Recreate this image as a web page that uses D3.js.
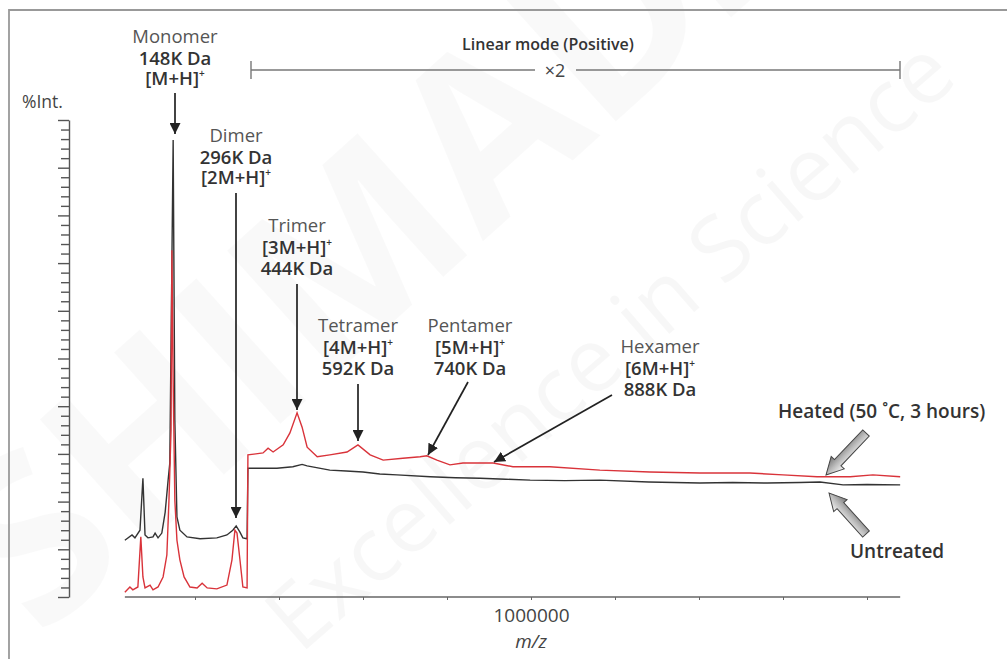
<!DOCTYPE html>
<html>
<head>
<meta charset="utf-8">
<script src="https://cdn.jsdelivr.net/npm/d3@7"></script>
<style>
  body { margin: 0; background: #fff; }
  svg { display: block; font-family: "Open Sans", sans-serif; }
</style>
</head>
<body>
<div id="chart"></div>
<script>

// m/z (Da) and %Int.
var untreatedMz = [33000, 50000, 57000, 69000, 76000, 81000, 88000, 100000, 105000, 112000, 121000, 129000, 136000, 140000, 148000, 152000, 157000, 164000, 181000, 212000, 252000, 276000, 290000, 298000, 307000, 314000, 324000, 326000, 348000, 395000, 433000, 455000, 467000, 521000, 560000, 600000, 640000, 681000, 760000, 820000, 879000, 940000, 998000, 1080000, 1164000, 1280000, 1402000, 1480000, 1562000, 1640000, 1688000, 1743000, 1800000, 1879000];
var untreatedInt = [11.9, 13.0, 12.4, 14.0, 24.9, 13.0, 12.4, 12.6, 13.4, 12.4, 13.4, 17.8, 24.5, 28.1, 95.8, 37.1, 16.8, 14.0, 12.6, 12.2, 12.4, 13.0, 14.0, 14.9, 13.6, 12.4, 12.2, 27.0, 27.0, 27.0, 27.3, 27.8, 27.5, 26.6, 26.4, 26.2, 25.8, 25.6, 25.2, 25.0, 24.9, 24.7, 24.5, 24.4, 24.5, 24.1, 23.9, 24.0, 23.9, 24.0, 24.1, 23.5, 23.6, 23.5];

var heatedMz = [33000, 45000, 52000, 64000, 71000, 76000, 81000, 93000, 100000, 112000, 124000, 133000, 138000, 143000, 145000, 148000, 152000, 157000, 164000, 174000, 188000, 205000, 217000, 229000, 252000, 276000, 288000, 295000, 300000, 307000, 314000, 324000, 326000, 362000, 374000, 386000, 410000, 426000, 443000, 455000, 467000, 491000, 521000, 562000, 588000, 617000, 648000, 695000, 736000, 752000, 776000, 807000, 838000, 886000, 910000, 957000, 1045000, 1164000, 1283000, 1402000, 1521000, 1600000, 1681000, 1760000, 1814000, 1879000];
var heatedInt = [1.0, 2.1, 1.5, 2.1, 12.6, 4.2, 1.9, 2.5, 1.5, 2.1, 4.2, 8.8, 20.3, 35.0, 72.7, 45.5, 20.3, 11.9, 7.8, 4.2, 2.1, 1.9, 2.9, 1.9, 1.7, 2.5, 7.8, 14.0, 13.4, 7.8, 2.1, 1.9, 29.8, 30.2, 31.2, 30.4, 31.9, 34.4, 38.6, 35.6, 31.4, 29.4, 29.8, 30.4, 31.9, 29.8, 28.7, 29.1, 29.4, 29.6, 28.7, 27.7, 28.1, 28.1, 28.1, 27.3, 27.3, 26.6, 26.2, 26.0, 26.0, 25.6, 25.2, 25.2, 25.6, 25.2];

var xTicks = [200000, 400000, 600000, 800000, 1000000, 1200000, 1400000, 1600000, 1800000];
var xLabels = {1000000: "1000000"};
var yTicks = d3.range(0, 101, 2);

var peakNames = ["Monomer", "Dimer", "Trimer", "Tetramer", "Pentamer", "Hexamer"];
var peakMasses = ["148K Da", "296K Da", "444K Da", "592K Da", "740K Da", "888K Da"];
var peakIons = ["M", "2M", "3M", "4M", "5M", "6M"];

var w = 1007, h = 659;

var svg = d3.select("#chart")
    .append("svg")
    .attr("width", w)
    .attr("height", h);

// faint watermark
var wm = svg.append("g").attr("fill", "#000");
wm.append("text")
    .attr("transform", "translate(40,640) rotate(-42)")
    .attr("font-size", 230)
    .attr("font-weight", 700)
    .attr("fill-opacity", 0.022)
    .text("SHIMADZU");
wm.append("text")
    .attr("transform", "translate(300,655) rotate(-41)")
    .attr("font-size", 90)
    .attr("fill-opacity", 0.03)
    .text("Excellence in Science");

// frame
svg.append("path")
    .attr("d", "M9," + h + "V10H" + w)
    .attr("fill", "none")
    .attr("stroke", "#999")
    .attr("stroke-width", 1.8);

var x = d3.scaleLinear().domain([200000, 1800000]).range([195, 867]);
var y = d3.scaleLinear().domain([0, 100]).range([597, 120]);

// y axis
var gy = svg.append("g")
    .attr("transform", "translate(69,0)")
    .call(d3.axisLeft(y).tickValues(yTicks).tickFormat("").tickSizeOuter(0));
gy.selectAll(".tick line")
    .attr("x2", function(d) { return d % 10 === 0 ? -11 : -8; })
    .attr("stroke", "#555")
    .attr("stroke-width", 1.4);
gy.select(".domain").attr("stroke", "#555").attr("stroke-width", 1.4);

svg.append("text")
    .attr("x", 22).attr("y", 108)
    .attr("font-size", 17.5)
    .attr("fill", "#444")
    .text("%Int.");

// x axis
var gx = svg.append("g")
    .attr("transform", "translate(0,597)")
    .call(d3.axisBottom(x).tickValues(xTicks).tickSize(3).tickSizeOuter(0)
        .tickFormat(function(d) { return xLabels[d] || ""; }));
gx.select(".domain")
    .attr("d", "M" + x(untreatedMz[0]) + ",0H" + x(untreatedMz[untreatedMz.length - 1]))
    .attr("stroke", "#666").attr("stroke-width", 1.3);
gx.selectAll(".tick line").attr("stroke", "#666");
gx.selectAll(".tick text")
    .attr("y", 12)
    .attr("font-size", 19)
    .attr("font-family", "Open Sans")
    .attr("fill", "#444");

svg.append("text")
    .attr("x", x(1000000)).attr("y", 648)
    .attr("text-anchor", "middle")
    .attr("font-size", 19)
    .attr("font-style", "italic")
    .attr("fill", "#444")
    .text("m/z");

// spectra
var line = d3.line()
    .x(function(d) { return x(d[0]); })
    .y(function(d) { return y(d[1]); });

svg.append("path")
    .datum(d3.zip(untreatedMz, untreatedInt))
    .attr("d", line)
    .attr("fill", "none")
    .attr("stroke", "#333")
    .attr("stroke-width", 1.4);

svg.append("path")
    .datum(d3.zip(heatedMz, heatedInt))
    .attr("d", line)
    .attr("fill", "none")
    .attr("stroke", "#d9333a")
    .attr("stroke-width", 1.4);

// linear mode bracket
var br = svg.append("g").attr("stroke", "#777").attr("stroke-width", 1.4);
br.append("line").attr("x1", 251).attr("x2", 535).attr("y1", 70).attr("y2", 70);
br.append("line").attr("x1", 576).attr("x2", 900).attr("y1", 70).attr("y2", 70);
br.append("line").attr("x1", 251).attr("x2", 251).attr("y1", 61).attr("y2", 79);
br.append("line").attr("x1", 900).attr("x2", 900).attr("y1", 61).attr("y2", 79);
svg.append("text")
    .attr("x", 548).attr("y", 50)
    .attr("text-anchor", "middle")
    .attr("font-size", 16).attr("font-weight", 600)
    .attr("fill", "#333")
    .text("Linear mode (Positive)");
svg.append("text")
    .attr("x", 555).attr("y", 77)
    .attr("text-anchor", "middle")
    .attr("font-size", 18)
    .attr("fill", "#444")
    .text("\u00d72");

// peak labels
var labelPos = [[175, 43], [236, 142], [297, 232], [358, 332], [470, 332], [660, 353]];
var massFirst = [true, true, false, false, false, false];
var arrows = [[175, 93, 175, 134], [236, 193, 236, 518], [297, 284, 297, 410], [358, 384, 358, 441], [468, 382, 428, 455], [612, 395, 494, 462]];

svg.append("defs").append("marker")
    .attr("id", "head")
    .attr("viewBox", "0 0 10 10")
    .attr("refX", 10).attr("refY", 5)
    .attr("markerWidth", 11).attr("markerHeight", 11)
    .attr("markerUnits", "userSpaceOnUse")
    .attr("orient", "auto")
    .append("path").attr("d", "M0,0L10,5L0,10Z").attr("fill", "#222");

peakNames.forEach(function(name, i) {
    var g = svg.append("g")
        .attr("text-anchor", "middle")
        .attr("font-size", 18.5);
    var px = labelPos[i][0], py = labelPos[i][1];
    g.append("text").attr("x", px).attr("y", py).attr("fill", "#555").text(name);
    var ion = g.append("text").attr("x", px).attr("y", py + (massFirst[i] ? 42 : 21.5))
        .attr("fill", "#333").attr("font-weight", 600);
    ion.append("tspan").text("[" + peakIons[i] + "+H]");
    ion.append("tspan").attr("font-size", 10).attr("dy", -8).text("+");
    g.append("text").attr("x", px).attr("y", py + (massFirst[i] ? 21.5 : 43))
        .attr("fill", "#333").attr("font-weight", 600).text(peakMasses[i]);

    var a = arrows[i];
    svg.append("line")
        .attr("x1", a[0]).attr("y1", a[1]).attr("x2", a[2]).attr("y2", a[3])
        .attr("stroke", "#222").attr("stroke-width", 1.7)
        .attr("marker-end", "url(#head)");
});

// condition labels with block arrows
var grad = svg.select("defs").append("linearGradient")
    .attr("id", "arrowfill").attr("x1", 0).attr("y1", 0).attr("x2", 0).attr("y2", 1);
grad.append("stop").attr("offset", 0).attr("stop-color", "#f4f4f4");
grad.append("stop").attr("offset", 0.5).attr("stop-color", "#bbb");
grad.append("stop").attr("offset", 1).attr("stop-color", "#777");

function blockArrow(x1, y1, x2, y2) {
    var L = Math.hypot(x2 - x1, y2 - y1);
    var ang = Math.atan2(y2 - y1, x2 - x1) * 180 / Math.PI;
    var hl = 17, hw = 9, sw = 4.5;
    var pts = [[0, 0], [-hl, -hw], [-hl, -sw], [-L, -sw], [-L, sw], [-hl, sw], [-hl, hw]];
    svg.append("polygon")
        .attr("points", pts.map(function(p) { return p.join(","); }).join(" "))
        .attr("transform", "translate(" + x2 + "," + y2 + ") rotate(" + ang + ")")
        .attr("fill", "url(#arrowfill)")
        .attr("stroke", "#444")
        .attr("stroke-width", 1);
}
blockArrow(866, 433, 826, 475);
blockArrow(866, 534, 829, 493);

svg.append("text")
    .attr("x", 778).attr("y", 418)
    .attr("font-size", 19).attr("font-weight", 600)
    .attr("fill", "#333")
    .text("Heated (50 \u02daC, 3 hours)");
svg.append("text")
    .attr("x", 850).attr("y", 558)
    .attr("font-size", 19).attr("font-weight", 600)
    .attr("fill", "#333")
    .text("Untreated");

</script>
</body>
</html>
